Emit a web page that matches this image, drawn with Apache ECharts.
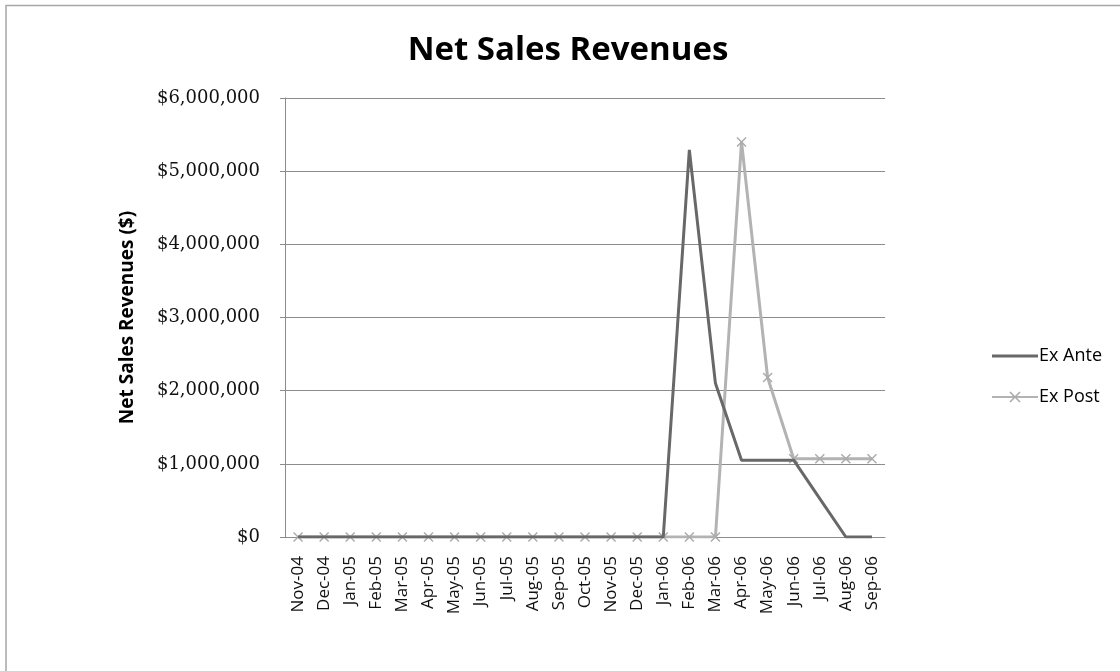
<!DOCTYPE html>
<html>
<head>
<meta charset="utf-8">
<script src="https://cdn.jsdelivr.net/npm/echarts@6/dist/echarts.min.js"></script>
<style>
  html, body { margin: 0; padding: 0; background: #ffffff; }
  #chart { width: 1120px; height: 671px; }
</style>
</head>
<body>
<div id="chart"></div>
<script>
// Monthly periods, Nov-04 through Sep-06
const months = [
  'Nov-04', 'Dec-04', 'Jan-05', 'Feb-05', 'Mar-05', 'Apr-05', 'May-05', 'Jun-05',
  'Jul-05', 'Aug-05', 'Sep-05', 'Oct-05', 'Nov-05', 'Dec-05', 'Jan-06', 'Feb-06',
  'Mar-06', 'Apr-06', 'May-06', 'Jun-06', 'Jul-06', 'Aug-06', 'Sep-06'
];

// Net sales revenues in dollars
const exAnte = [
  0, 0, 0, 0, 0, 0, 0, 0, 0, 0, 0, 0, 0, 0, 0,
  5290000, 2100000, 1050000, 1050000, 1050000, 525000, 0, 0
];
const exPost = [
  0, 0, 0, 0, 0, 0, 0, 0, 0, 0, 0, 0, 0, 0, 0, 0, 0,
  5400000, 2180000, 1070000, 1070000, 1070000, 1070000
];

const yTicks = [0, 1000000, 2000000, 3000000, 4000000, 5000000, 6000000];

const SANS = '"Open Sans", "Noto Sans", sans-serif';
const SERIF = '"DejaVu Serif", "Liberation Serif", serif';
const ANTE_COLOR = '#686868';
const POST_COLOR = '#b3b3b3';
// Cross-shaped marker
const crossSymbol = 'path://M0,1L1,0L5,4L9,0L10,1L6,5L10,9L9,10L5,6L1,10L0,9L4,5Z';
// Plain line swatch for a series drawn without markers
const lineSwatch = 'path://M0,0L46,0L46,3L0,3Z';

function money(v) {
  return '$' + v.toLocaleString('en-US');
}

const chart = echarts.init(document.getElementById('chart'), null, { renderer: 'canvas' });

chart.setOption({
  animation: false,
  backgroundColor: '#ffffff',
  color: [ANTE_COLOR, POST_COLOR],
  graphic: [{
    type: 'polyline',
    shape: { points: [[6, 700], [6, 5.5], [1130, 5.5]] },
    style: { stroke: '#a6a6a6', lineWidth: 1.5, fill: null }
  }],
  title: {
    text: 'Net Sales Revenues',
    left: 563, top: 29, textAlign: 'center',
    textStyle: { fontFamily: SANS, fontSize: 33, fontWeight: 'bold', color: '#000' }
  },
  legend: {
    orient: 'vertical',
    left: 986, top: 342,
    itemWidth: 46, itemHeight: 14, itemGap: 23,
    textStyle: { fontFamily: SANS, fontSize: 18, color: '#000', padding: [0, 0, 0, -4] },
    data: [
      { name: 'Ex Ante', icon: lineSwatch },
      { name: 'Ex Post' }
    ]
  },
  grid: { left: 285, right: 235, top: 98, bottom: 134, containLabel: false },
  xAxis: {
    type: 'category',
    data: months,
    boundaryGap: true,
    axisLine: { lineStyle: { color: '#8c8c8c', width: 1 } },
    axisTick: { show: false },
    axisLabel: {
      rotate: 90, interval: 0, margin: 19,
      fontFamily: SANS, fontSize: 17, color: '#111'
    }
  },
  yAxis: {
    type: 'value',
    min: 0, max: 6000000, interval: 1000000,
    name: 'Net Sales Revenues ($)',
    nameLocation: 'middle', nameGap: 148, nameRotate: 90,
    nameTextStyle: { fontFamily: SANS, fontSize: 19, fontWeight: 'bold', color: '#000' },
    axisLine: { show: true, lineStyle: { color: '#8c8c8c', width: 1 } },
    axisTick: { show: true, length: 5, inside: false, lineStyle: { color: '#8c8c8c' } },
    splitLine: { lineStyle: { color: '#8c8c8c', width: 1 } },
    axisLabel: {
      margin: 25,
      fontFamily: SERIF, fontSize: 18, color: '#111',
      formatter: function (v) { return yTicks.indexOf(v) >= 0 ? money(v) : ''; }
    }
  },
  series: [
    {
      name: 'Ex Ante',
      type: 'line',
      data: exAnte,
      symbol: 'none',
      lineStyle: { color: ANTE_COLOR, width: 3 },
      itemStyle: { color: ANTE_COLOR },
      z: 3
    },
    {
      name: 'Ex Post',
      type: 'line',
      data: exPost,
      symbol: crossSymbol,
      symbolSize: 10,
      showAllSymbol: true,
      lineStyle: { color: POST_COLOR, width: 3 },
      itemStyle: { color: '#aaaaaa' },
      z: 2
    }
  ]
});
</script>
</body>
</html>
